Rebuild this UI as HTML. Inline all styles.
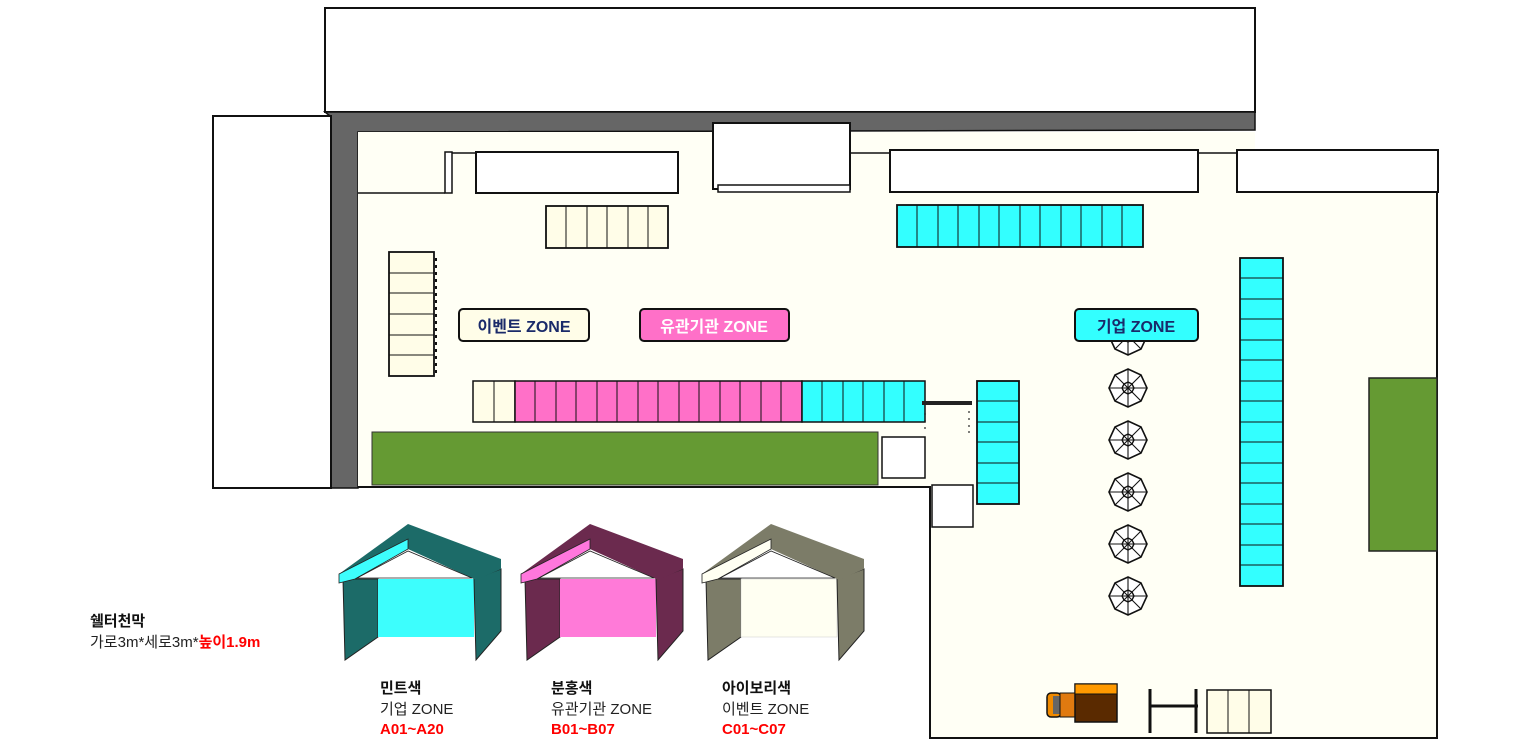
<!DOCTYPE html>
<html><head><meta charset="utf-8"><style>
html,body{margin:0;padding:0;background:#fff;}
svg{display:block;font-family:"Liberation Sans","Noto Sans CJK KR",sans-serif;}
</style></head><body>
<svg width="1513" height="745" viewBox="0 0 1513 745" xmlns="http://www.w3.org/2000/svg">
<defs>
<g id="umb">
<polygon points="0,-19 13,-13 19,0 13,13 0,19 -13,13 -19,0 -13,-13" fill="#fff" stroke="#111" stroke-width="1.6"/>
<g stroke="#111" stroke-width="1.1"><line x1="0" y1="-19" x2="0" y2="19"/><line x1="-19" y1="0" x2="19" y2="0"/><line x1="-13" y1="-13" x2="13" y2="13"/><line x1="-13" y1="13" x2="13" y2="-13"/></g>
<polygon points="0,-6 4,-4 6,0 4,4 0,6 -4,4 -6,0 -4,-4" fill="none" stroke="#111" stroke-width="1.4"/>
</g>
</defs>
<rect x="325" y="8" width="930" height="104" fill="#fff" stroke="#111" stroke-width="2"/>
<polygon points="325,112 1255,112 1255,130 358,132 358,488 330,488 330,116" fill="#666" stroke="#111" stroke-width="1.5"/>
<rect x="213" y="116" width="118" height="372" fill="#fff" stroke="#111" stroke-width="2"/>
<polygon points="358,132 1255,132 1255,152 1437,152 1437,738 930,738 930,487 358,487" fill="#fffff5"/>
<polyline points="358,487 930,487 930,738 1437,738 1437,192" fill="none" stroke="#111" stroke-width="2"/>
<line x1="358" y1="193" x2="445" y2="193" stroke="#111" stroke-width="1.5"/>
<line x1="452" y1="153" x2="476" y2="153" stroke="#111" stroke-width="1.5"/>
<line x1="850" y1="153" x2="890" y2="153" stroke="#111" stroke-width="1.5"/>
<line x1="1198" y1="153" x2="1237" y2="153" stroke="#111" stroke-width="1.5"/>
<rect x="445" y="152" width="7" height="41" fill="#fff" stroke="#111" stroke-width="1.5"/>
<rect x="476" y="152" width="202" height="41" fill="#fff" stroke="#111" stroke-width="2"/>
<rect x="713" y="123" width="137" height="66" fill="#fff" stroke="#111" stroke-width="2"/>
<rect x="718" y="185" width="132" height="7" fill="#fff" stroke="#111" stroke-width="1.5"/>
<rect x="890" y="150" width="308" height="42" fill="#fff" stroke="#111" stroke-width="2"/>
<rect x="1237" y="150" width="201" height="42" fill="#fff" stroke="#111" stroke-width="2"/>
<rect x="372" y="432" width="506" height="53" fill="#659a33" stroke="#333" stroke-width="1"/>
<rect x="1369" y="378" width="68" height="173" fill="#659a33" stroke="#222" stroke-width="1.5"/>
<rect x="882" y="437" width="43" height="41" fill="#fff" stroke="#111" stroke-width="1.5"/>
<rect x="932" y="485" width="41" height="42" fill="#fff" stroke="#111" stroke-width="1.5"/>
<rect x="546" y="206" width="122" height="42" fill="#fffde8" stroke="#111" stroke-width="1.8"/>
<g stroke="#111" stroke-width="1"><line x1="566" y1="206" x2="566" y2="248"/><line x1="587" y1="206" x2="587" y2="248"/><line x1="607" y1="206" x2="607" y2="248"/><line x1="628" y1="206" x2="628" y2="248"/><line x1="648" y1="206" x2="648" y2="248"/></g>
<rect x="897" y="205" width="246" height="42" fill="#33ffff" stroke="#111" stroke-width="1.8"/>
<g stroke="#111" stroke-width="1">
<line x1="917" y1="205" x2="917" y2="247"/><line x1="938" y1="205" x2="938" y2="247"/><line x1="958" y1="205" x2="958" y2="247"/><line x1="979" y1="205" x2="979" y2="247"/><line x1="999" y1="205" x2="999" y2="247"/><line x1="1020" y1="205" x2="1020" y2="247"/><line x1="1040" y1="205" x2="1040" y2="247"/><line x1="1061" y1="205" x2="1061" y2="247"/><line x1="1081" y1="205" x2="1081" y2="247"/><line x1="1102" y1="205" x2="1102" y2="247"/><line x1="1122" y1="205" x2="1122" y2="247"/></g>
<rect x="389" y="252" width="45" height="124" fill="#fffde8" stroke="#111" stroke-width="1.8"/>
<g stroke="#111" stroke-width="1"><line x1="389" y1="273" x2="434" y2="273"/><line x1="389" y1="293" x2="434" y2="293"/><line x1="389" y1="314" x2="434" y2="314"/><line x1="389" y1="335" x2="434" y2="335"/><line x1="389" y1="355" x2="434" y2="355"/></g>
<line x1="436" y1="258" x2="436" y2="374" stroke="#111" stroke-width="2" stroke-dasharray="3,4"/>
<rect x="473" y="381" width="42" height="41" fill="#fffde8" stroke="#111" stroke-width="1.5"/>
<rect x="515" y="381" width="287" height="41" fill="#ff70c8" stroke="#111" stroke-width="1.5"/>
<rect x="802" y="381" width="123" height="41" fill="#33ffff" stroke="#111" stroke-width="1.5"/>
<g stroke="#111" stroke-width="1">
<line x1="494" y1="381" x2="494" y2="422"/>
<line x1="535" y1="381" x2="535" y2="422"/><line x1="556" y1="381" x2="556" y2="422"/><line x1="576" y1="381" x2="576" y2="422"/><line x1="597" y1="381" x2="597" y2="422"/><line x1="617" y1="381" x2="617" y2="422"/><line x1="638" y1="381" x2="638" y2="422"/><line x1="658" y1="381" x2="658" y2="422"/><line x1="679" y1="381" x2="679" y2="422"/><line x1="699" y1="381" x2="699" y2="422"/><line x1="720" y1="381" x2="720" y2="422"/><line x1="740" y1="381" x2="740" y2="422"/><line x1="761" y1="381" x2="761" y2="422"/><line x1="781" y1="381" x2="781" y2="422"/>
<line x1="822" y1="381" x2="822" y2="422"/><line x1="843" y1="381" x2="843" y2="422"/><line x1="863" y1="381" x2="863" y2="422"/><line x1="884" y1="381" x2="884" y2="422"/><line x1="904" y1="381" x2="904" y2="422"/></g>
<rect x="922" y="401" width="50" height="4" fill="#222"/>
<g fill="#222"><circle cx="925" cy="414" r="0.9"/><circle cx="925" cy="421" r="0.9"/><circle cx="925" cy="428" r="0.9"/><circle cx="969" cy="412" r="0.9"/><circle cx="969" cy="419" r="0.9"/><circle cx="969" cy="426" r="0.9"/><circle cx="969" cy="432" r="0.9"/></g>
<rect x="977" y="381" width="42" height="123" fill="#33ffff" stroke="#111" stroke-width="1.8"/>
<g stroke="#111" stroke-width="1"><line x1="977" y1="401" x2="1019" y2="401"/><line x1="977" y1="422" x2="1019" y2="422"/><line x1="977" y1="442" x2="1019" y2="442"/><line x1="977" y1="463" x2="1019" y2="463"/><line x1="977" y1="483" x2="1019" y2="483"/></g>
<rect x="1240" y="258" width="43" height="328" fill="#33ffff" stroke="#111" stroke-width="1.8"/>
<g stroke="#111" stroke-width="1">
<line x1="1240" y1="278" x2="1283" y2="278"/><line x1="1240" y1="299" x2="1283" y2="299"/><line x1="1240" y1="319" x2="1283" y2="319"/><line x1="1240" y1="340" x2="1283" y2="340"/><line x1="1240" y1="360" x2="1283" y2="360"/><line x1="1240" y1="381" x2="1283" y2="381"/><line x1="1240" y1="401" x2="1283" y2="401"/><line x1="1240" y1="422" x2="1283" y2="422"/><line x1="1240" y1="442" x2="1283" y2="442"/><line x1="1240" y1="463" x2="1283" y2="463"/><line x1="1240" y1="483" x2="1283" y2="483"/><line x1="1240" y1="504" x2="1283" y2="504"/><line x1="1240" y1="524" x2="1283" y2="524"/><line x1="1240" y1="545" x2="1283" y2="545"/><line x1="1240" y1="565" x2="1283" y2="565"/></g>
<use href="#umb" x="1128" y="336"/>
<use href="#umb" x="1128" y="388"/>
<use href="#umb" x="1128" y="440"/>
<use href="#umb" x="1128" y="492"/>
<use href="#umb" x="1128" y="544"/>
<use href="#umb" x="1128" y="596"/>
<rect x="459" y="309" width="130" height="32" rx="4" fill="#fffde8" stroke="#111" stroke-width="2"/>
<text x="524" y="332" font-size="16" font-weight="bold" fill="#1a2a6a" text-anchor="middle">이벤트 ZONE</text>
<rect x="640" y="309" width="149" height="32" rx="4" fill="#ff70c8" stroke="#111" stroke-width="2"/>
<text x="714" y="332" font-size="16" font-weight="bold" fill="#fff" text-anchor="middle">유관기관 ZONE</text>
<rect x="1075" y="309" width="123" height="32" rx="4" fill="#33ffff" stroke="#111" stroke-width="2"/>
<text x="1136" y="332" font-size="16" font-weight="bold" fill="#1a2a6a" text-anchor="middle">기업 ZONE</text>
<rect x="1047" y="693" width="14" height="24" rx="4" fill="#f08a00" stroke="#111" stroke-width="1.5"/>
<rect x="1053" y="696" width="7" height="18" fill="#666"/>
<rect x="1060" y="693" width="16" height="24" fill="#e07a10" stroke="#111" stroke-width="1"/>
<rect x="1075" y="684" width="42" height="38" fill="#5a2a00" stroke="#111" stroke-width="1.5"/>
<rect x="1075" y="684" width="42" height="10" fill="#ff9900" stroke="#111" stroke-width="1"/>
<g stroke="#111" stroke-width="3"><line x1="1150" y1="689" x2="1150" y2="733"/><line x1="1196" y1="689" x2="1196" y2="733"/><line x1="1150" y1="706" x2="1198" y2="706"/></g>
<rect x="1207" y="690" width="64" height="43" fill="#fffde8" stroke="#111" stroke-width="1.5"/>
<g stroke="#111" stroke-width="1"><line x1="1228" y1="690" x2="1228" y2="733"/><line x1="1249" y1="690" x2="1249" y2="733"/></g>
<!-- tents -->
<g>
<polygon points="343,579 378,579 378,637 345,660" fill="#1c6b68" stroke="#222" stroke-width="1"/>
<rect x="378" y="579" width="96" height="58" fill="#3dfefd"/>
<polygon points="474,579 501,569 501,631 476,660" fill="#1c6b68" stroke="#222" stroke-width="1"/>
<polygon points="408,524 501,559 501,569 476,580 408,549" fill="#1c6b68"/>
<polygon points="408,524 339,574 408,539" fill="#1c6b68"/>
<polygon points="339,574 408,539 408,549 355,579 339,583" fill="#3dfefd" stroke="#222" stroke-width="0.8"/>
<polygon points="408,551 357,578 472,578" fill="#fff" stroke="#222" stroke-width="0.8"/>
</g>
<g>
<polygon points="525,579 560,579 560,637 527,660" fill="#6b2a4e" stroke="#222" stroke-width="1"/>
<rect x="560" y="579" width="96" height="58" fill="#ff7ad8"/>
<polygon points="656,579 683,569 683,631 658,660" fill="#6b2a4e" stroke="#222" stroke-width="1"/>
<polygon points="590,524 683,559 683,569 658,580 590,549" fill="#6b2a4e"/>
<polygon points="590,524 521,574 590,539" fill="#6b2a4e"/>
<polygon points="521,574 590,539 590,549 537,579 521,583" fill="#ff77dd" stroke="#222" stroke-width="0.8"/>
<polygon points="590,551 539,578 654,578" fill="#fff" stroke="#222" stroke-width="0.8"/>
</g>
<g>
<polygon points="706,579 741,579 741,637 708,660" fill="#7c7c68" stroke="#222" stroke-width="1"/>
<rect x="741" y="579" width="96" height="58" fill="#fffff2" stroke="#ccc" stroke-width="0.5"/>
<polygon points="837,579 864,569 864,631 839,660" fill="#7c7c68" stroke="#222" stroke-width="1"/>
<polygon points="771,524 864,559 864,569 839,580 771,549" fill="#7c7c68"/>
<polygon points="771,524 702,574 771,539" fill="#7c7c68"/>
<polygon points="702,574 771,539 771,549 718,579 702,583" fill="#fffff2" stroke="#222" stroke-width="0.8"/>
<polygon points="771,551 720,578 835,578" fill="#fff" stroke="#222" stroke-width="0.8"/>
</g>
<text x="90" y="626" font-size="15" font-weight="bold" fill="#111">쉘터천막</text>
<text x="90" y="647" font-size="15" fill="#222">가로3m*세로3m*<tspan fill="#f00" font-weight="bold">높이1.9m</tspan></text>
<g font-size="15">
<text x="380" y="693" font-weight="bold" fill="#111">민트색</text>
<text x="380" y="714" fill="#222">기업 ZONE</text>
<text x="380" y="734" font-weight="bold" fill="#f00">A01~A20</text>
<text x="551" y="693" font-weight="bold" fill="#111">분홍색</text>
<text x="551" y="714" fill="#222">유관기관 ZONE</text>
<text x="551" y="734" font-weight="bold" fill="#f00">B01~B07</text>
<text x="722" y="693" font-weight="bold" fill="#111">아이보리색</text>
<text x="722" y="714" fill="#222">이벤트 ZONE</text>
<text x="722" y="734" font-weight="bold" fill="#f00">C01~C07</text>
</g>
</svg>
</body></html>
